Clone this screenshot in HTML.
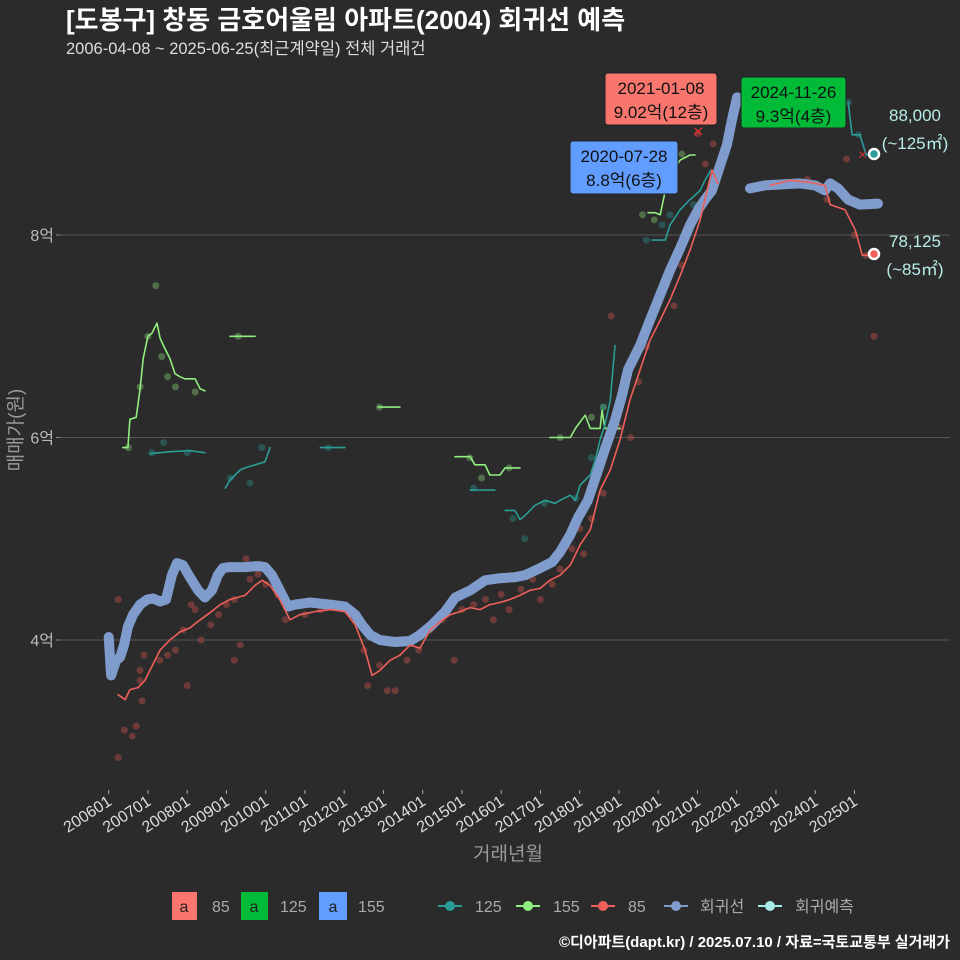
<!DOCTYPE html>
<html><head><meta charset="utf-8"><style>
body{margin:0;background:#2b2b2b;}
svg{display:block;font-family:"Liberation Sans","Noto Sans CJK KR",sans-serif;}
</style></head><body>
<svg id="c" width="960" height="960" viewBox="0 0 960 960">
<rect width="960" height="960" fill="#2b2b2b"/>
<text x="66" y="29" fill="#fff" font-size="26" font-weight="bold">[도봉구] 창동 금호어울림 아파트(2004) 회귀선 예측</text>
<text x="66" y="54" fill="#ddd" font-size="16.5">2006-04-08 ~ 2025-06-25(최근계약일) 전체 거래건</text>
<g id="grid"></g><g id="axes"></g><g id="scat"></g><g id="lines"></g><g id="ann"></g>
<text x="508" y="860" fill="#999" font-size="19" text-anchor="middle">거래년월</text>
<text transform="translate(22,430) rotate(-90)" fill="#999" font-size="19" text-anchor="middle">매매가(원)</text>
<g font-size="16" fill="#aaa">
<rect x="172" y="892" width="25" height="28" fill="#f8766d"/><text x="184" y="912" fill="#222" text-anchor="middle">a</text><text x="212" y="912">85</text>
<rect x="241" y="892" width="27" height="28" fill="#00ba38"/><text x="254" y="912" fill="#222" text-anchor="middle">a</text><text x="280" y="912">125</text>
<rect x="319" y="892" width="28" height="28" fill="#619cff"/><text x="333" y="912" fill="#222" text-anchor="middle">a</text><text x="358" y="912">155</text>
<g><line x1="438" x2="462" y1="906" y2="906" stroke="#2a9d96" stroke-width="2"/><circle cx="450" cy="906" r="5" fill="#2a9d96"/></g><text x="475" y="912">125</text>
<g><line x1="516" x2="540" y1="906" y2="906" stroke="#90ee7e" stroke-width="2"/><circle cx="528" cy="906" r="5" fill="#90ee7e"/></g><text x="553" y="912">155</text>
<g><line x1="591" x2="615" y1="906" y2="906" stroke="#f0605a" stroke-width="2"/><circle cx="603" cy="906" r="5" fill="#f0605a"/></g><text x="628" y="912">85</text>
<g><line x1="664" x2="688" y1="906" y2="906" stroke="#7f9ccc" stroke-width="2"/><circle cx="676" cy="906" r="5" fill="#7f9ccc"/></g><text x="700" y="912">회귀선</text>
<g><line x1="758" x2="782" y1="906" y2="906" stroke="#a8ece8" stroke-width="2"/><circle cx="770" cy="906" r="5" fill="#a8ece8"/></g><text x="795" y="912">회귀예측</text>
</g>
<text x="950" y="947" fill="#fff" font-size="15" font-weight="bold" text-anchor="end">©디아파트(dapt.kr) / 2025.07.10 / 자료=국토교통부 실거래가</text>
</svg>
<script>
const yTicks=[4,6,8];
const xTickYears=[2006,2007,2008,2009,2010,2011,2012,2013,2014,2015,2016,2017,2018,2019,2020,2021,2022,2023,2024,2025];
const regT=[2006.0,2006.06,2006.19,2006.29,2006.39,2006.49,2006.62,2006.8,2006.98,2007.13,2007.31,2007.46,2007.61,2007.74,2007.89,2008.07,2008.28,2008.45,2008.63,2008.78,2008.91,2009.09,2009.47,2009.8,2009.98,2010.16,2010.36,2010.57,2010.75,2011.13,2011.64,2012.02,2012.28,2012.45,2012.66,2012.91,2013.29,2013.68,2013.93,2014.24,2014.57,2014.83,2015.21,2015.59,2015.97,2016.35,2016.61,2016.99,2017.3,2017.5,2017.76,2017.96,2018.21,2018.47,2018.64,2018.9,2019.08,2019.23,2019.54,2019.79,2020.05,2020.3,2020.56,2020.81,2021.02,2021.19,2021.37,2021.58,2021.75,2021.88,2022.01,null,2022.34,2022.72,2023.61,2024.0,2024.25,2024.38,2024.58,2024.84,2025.14,2025.6];
const regV=[4.03,3.65,3.8,3.83,3.95,4.13,4.25,4.35,4.4,4.41,4.38,4.4,4.64,4.76,4.74,4.62,4.49,4.42,4.49,4.64,4.71,4.72,4.72,4.73,4.72,4.64,4.49,4.33,4.35,4.37,4.35,4.33,4.25,4.15,4.05,4.0,3.98,3.99,4.05,4.15,4.28,4.42,4.49,4.59,4.61,4.62,4.64,4.71,4.77,4.87,5.04,5.21,5.38,5.68,5.88,6.17,6.42,6.67,6.91,7.16,7.41,7.65,7.87,8.1,8.25,8.35,8.44,8.69,8.89,9.14,9.36,null,8.46,8.49,8.51,8.49,8.44,8.51,8.46,8.35,8.3,8.31];
const s85T=[2006.24,2006.42,2006.54,2006.75,2006.92,2007.05,2007.31,2007.56,2007.82,2008.07,2008.33,2008.58,2008.84,2009.09,2009.47,2009.73,2009.91,2010.11,2010.36,2010.62,2010.87,2011.26,2011.64,2012.02,2012.28,2012.53,2012.71,2012.91,2013.17,2013.42,2013.68,2013.93,2014.19,2014.44,2014.7,2014.95,2015.21,2015.46,2015.71,2015.97,2016.22,2016.48,2016.73,2016.99,2017.24,2017.5,2017.76,2018.01,2018.27,2018.52,2018.78,2019.03,null,2019.03,2019.28,2019.54,2019.79,2020.05,2020.3,2020.56,2020.81,2021.07,2021.19,2021.37,2021.52,null,2022.85,2023.36,2023.87,2024.25,2024.38,2024.76,2025.02,2025.2,2025.53];
const s85V=[3.46,3.41,3.51,3.53,3.6,3.7,3.9,4.0,4.08,4.12,4.2,4.27,4.35,4.4,4.44,4.54,4.59,4.54,4.4,4.2,4.25,4.28,4.3,4.28,4.15,3.9,3.65,3.7,3.8,3.85,3.95,3.92,4.1,4.18,4.25,4.28,4.32,4.3,4.35,4.37,4.4,4.44,4.49,4.51,4.59,4.64,4.74,4.94,5.09,5.48,5.68,5.98,null,5.98,6.37,6.67,6.96,7.16,7.36,7.6,7.85,8.15,8.35,8.64,8.51,null,8.49,8.54,8.52,8.49,8.3,8.25,8.05,7.8,7.8];
const s155T=[2006.36,2006.49,2006.54,2006.7,2006.8,2006.88,2007.0,2007.1,2007.23,2007.31,2007.43,2007.56,2007.69,2007.82,2007.94,2008.2,2008.33,2008.45,null,2009.09,2009.73,null,2012.87,2013.42,null,2014.82,2015.21,2015.33,2015.59,2015.71,2015.97,2016.1,2016.48,null,2017.24,2017.76,2017.89,2018.14,2018.27,2018.52,2018.57,2018.64,2019.03,null,2019.74,2019.92,2020.05,2020.18,2020.3,2020.56,2020.81,2020.94];
const s155V=[5.9,5.9,6.18,6.2,6.48,6.78,7.0,7.03,7.13,6.98,6.88,6.78,6.63,6.6,6.58,6.58,6.48,6.46,null,7.0,7.0,null,6.3,6.3,null,5.81,5.81,5.73,5.73,5.63,5.63,5.7,5.7,null,6.0,6.0,6.09,6.22,6.09,6.09,6.27,6.09,6.09,null,8.22,8.22,8.2,8.44,8.59,8.74,8.79,8.79];
const s125T=[2007.05,2007.56,2008.07,2008.45,null,2008.97,2009.09,2009.22,2009.35,2009.47,2009.73,2009.98,2010.11,null,2011.39,2012.02,null,2015.21,2015.84,null,2016.1,2016.35,2016.48,2016.61,2016.86,2017.12,2017.37,2017.5,2017.76,2017.89,2018.01,2018.27,2018.4,2018.52,2018.64,2018.78,2018.9,null,2019.84,2020.18,2020.3,2020.56,2020.81,2021.07,2021.19,2021.34,null,2024.84,2024.94,2025.14,2025.3,2025.5];
const s125V=[5.84,5.86,5.87,5.85,null,5.5,5.58,5.63,5.68,5.7,5.73,5.76,5.9,null,5.9,5.9,null,5.48,5.48,null,5.28,5.28,5.19,5.23,5.33,5.38,5.35,5.38,5.43,5.38,5.53,5.63,5.78,5.98,6.12,6.37,6.91,null,7.95,7.95,8.1,8.25,8.35,8.44,8.54,8.64,null,9.31,8.99,8.99,8.79,8.79];
const p85T=[2006.24,2006.24,2006.4,2006.6,2006.7,2006.8,2006.8,2006.85,2006.9,2007.3,2007.5,2007.7,2007.9,2008.0,2008.1,2008.2,2008.35,2008.6,2008.8,2009.0,2009.2,2009.5,2009.6,2009.8,2009.2,2009.35,2010.0,2010.3,2010.5,2011.0,2011.4,2012.2,2012.5,2012.6,2012.9,2013.1,2013.3,2013.6,2013.9,2014.2,2014.5,2014.8,2015.0,2015.3,2015.6,2015.8,2016.0,2016.2,2016.5,2016.8,2017.0,2017.3,2017.5,2017.8,2018.0,2018.1,2018.3,2018.5,2018.6,2018.8,2019.0,2019.3,2019.5,2019.7,2019.9,2020.2,2020.4,2020.6,2020.8,2021.0,2021.2,2021.4,2023.8,2024.3,2024.8,2025.0,2025.3,2025.5,2025.1];
const p85V=[2.84,4.4,3.11,3.05,3.15,3.6,3.7,3.4,3.85,3.8,3.85,3.9,4.1,3.55,4.35,4.3,4.0,4.15,4.25,4.35,4.4,4.8,4.6,4.65,3.8,3.95,4.55,4.45,4.2,4.25,4.3,4.25,3.9,3.55,3.75,3.5,3.5,3.8,3.9,4.1,4.2,3.8,4.3,4.35,4.4,4.2,4.45,4.3,4.5,4.6,4.4,4.55,4.7,4.9,5.1,4.85,5.2,5.75,5.45,7.2,6.1,6.0,6.55,6.9,7.3,7.5,7.3,7.7,8.1,9.0,8.7,8.9,8.55,8.35,8.75,8.0,7.8,7.0,8.3];
const p155T=[2006.5,2006.8,2007.0,2007.2,2007.35,2007.5,2007.7,2008.2,2009.3,2012.9,2015.2,2015.5,2016.2,2017.5,2018.3,2018.6,2019.6,2019.9,2020.3,2020.6];
const p155V=[5.9,6.5,7.0,7.5,6.8,6.6,6.5,6.45,7.0,6.3,5.8,5.6,5.7,6.0,6.2,6.3,8.2,8.15,8.5,8.8];
const p125T=[2007.1,2007.4,2008.0,2009.1,2009.6,2009.9,2011.6,2015.3,2016.3,2016.6,2017.1,2017.9,2018.3,2018.6,2019.7,2020.1,2020.3,2020.9,2024.85,2025.1];
const p125V=[5.85,5.95,5.85,5.6,5.55,5.9,5.9,5.5,5.2,5.0,5.35,5.4,5.8,6.3,7.95,8.1,8.2,8.3,9.31,8.99];

const X=t=>108.7+(t-2006)*39.25;
const Y=v=>640-(v-4)*101.25;
const NS="http://www.w3.org/2000/svg";
function mk(tag,parent,attrs){const e=document.createElementNS(NS,tag);for(const k in attrs)e.setAttribute(k,attrs[k]);document.getElementById(parent).appendChild(e);return e;}
yTicks.forEach(v=>{
  const g=mk('line','grid',{x1:60,x2:950,y1:Y(v),y2:Y(v),stroke:'#555','stroke-width':1});
  
  
  const t=mk('text','axes',{x:54,y:Y(v)+6,fill:'#bbb','font-size':16,'text-anchor':'end'});
  t.textContent=v+'억';
  
  
  mk('line','axes',{x1:56,x2:60,y1:Y(v),y2:Y(v),stroke:'#888'});
});
xTickYears.forEach(yr=>{
  const x=X(yr);
  mk('line','axes',{x1:x,x2:x,y1:790,y2:794,stroke:'#aaa'});
  const t=mk('text','axes',{x:x+4,y:804,fill:'#ddd','font-size':16,'text-anchor':'end',transform:`rotate(-33 ${x+4} 804)`});
  t.textContent=yr+'01';
  
  
});
function scat(T,V,col,name){T.forEach((t,i)=>{
  const c=mk('circle','scat',{cx:X(t),cy:Y(V[i]),r:3.5,fill:col,'fill-opacity':0.45});
  
  
});}
scat(p85T,p85V,'#c0504a','point-85');
scat(p155T,p155V,'#7fc06f','point-155');
scat(p125T,p125V,'#2a8a85','point-125');
function path(T,V){let d='',pen=false;T.forEach((t,i)=>{if(t===null){pen=false;return;}d+=(pen?'L':'M')+X(t).toFixed(1)+','+Y(V[i]).toFixed(1);pen=true;});return d;}
function line(T,V,col,w,name,op){
  const p=mk('path','lines',{d:path(T,V),fill:'none',stroke:col,'stroke-width':w,'stroke-linejoin':'round','stroke-linecap':'round','stroke-opacity':op});
  
  
}
line(s155T,s155V,'#90ee7e',1.6,'line-155',1);
line(s125T,s125V,'#2a9d96',1.6,'line-125',1);
line(regT,regV,'#7f9ccc',10,'regression-line',1);
line(s85T,s85V,'#f0605a',1.6,'line-85',1);
function label(x,y,w,h,bg,l1,l2,name){
  const r=mk('rect','ann',{x,y,width:w,height:h,rx:3,fill:bg,stroke:'#222'});
  
  
  const a=mk('text','ann',{x:x+w/2,y:y+21,'font-size':17,'text-anchor':'middle',fill:'#111'});a.textContent=l1;
  const b=mk('text','ann',{x:x+w/2,y:y+45,'font-size':17,'text-anchor':'middle',fill:'#111'});b.textContent=l2;
}
label(605,73,112,52,'#f8766d','2021-01-08','9.02억(12층)','annotation-max-85');
label(570,141,108,53,'#619cff','2020-07-28','8.8억(6층)','annotation-max-155');
label(741,77,105,51,'#00ba38','2024-11-26','9.3억(4층)','annotation-max-125');
const mx=mk('text','ann',{x:X(2021.02),y:Y(9.02)+5,fill:'#e03030','font-size':14,'text-anchor':'middle'});mx.textContent='✕';
const mx2=mk('text','ann',{x:X(2024.85)+14,y:Y(8.8)+5,fill:'#c03030','font-size':12,'text-anchor':'middle'});mx2.textContent='✕';
const f1=mk('circle','ann',{cx:874,cy:154,r:5,fill:'#2a9d96',stroke:'#fff','stroke-width':2.5});


const f2=mk('circle','ann',{cx:874,cy:254,r:5,fill:'#f0605a',stroke:'#fff','stroke-width':2.5});


[[915,121,'88,000'],[915,149,'(~125㎡)'],[915,247,'78,125'],[915,275,'(~85㎡)']].forEach(a=>{
  const t=mk('text','ann',{x:a[0],y:a[1],fill:'#b8ece8','font-size':17,'text-anchor':'middle'});
  t.textContent=a[2];
  
  
});
</script>
</body></html>
